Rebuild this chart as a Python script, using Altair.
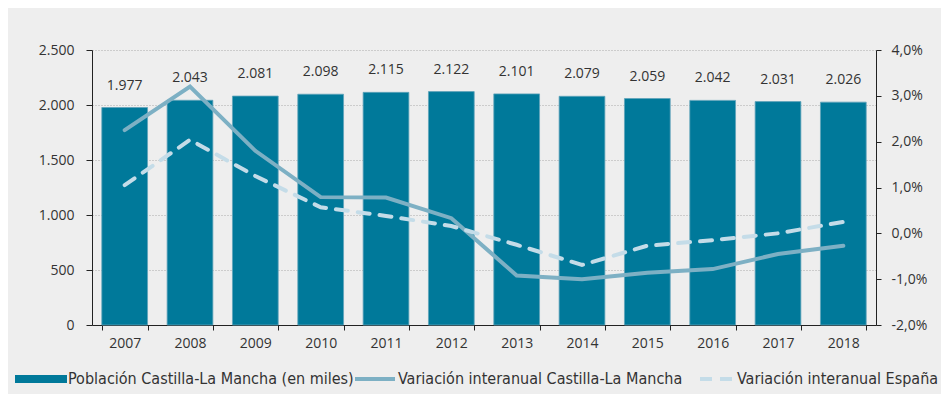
import altair as alt
import pandas as pd

years = ["2007", "2008", "2009", "2010", "2011", "2012", "2013", "2014", "2015", "2016", "2017", "2018"]
poblacion = [1977, 2043, 2081, 2098, 2115, 2122, 2101, 2079, 2059, 2042, 2031, 2026]
var_clm = [2.25, 3.2, 1.8, 0.79, 0.78, 0.33, -0.92, -1.0, -0.86, -0.78, -0.45, -0.27]
var_esp = [1.05, 2.04, 1.25, 0.57, 0.38, 0.16, -0.25, -0.69, -0.27, -0.15, 0.0, 0.25]

legend_labels = ["Población Castilla-La Mancha (en miles)",
                 "Variación interanual Castilla-La Mancha",
                 "Variación interanual España"]

BAR = "#00799A"
CLM = "#7DB0C4"
ESP = "#C4DCE8"
TXT = "#333333"
FONT = "Open Sans"
LFONT = "Liberation Sans Narrow, DejaVu Sans Condensed, Roboto, sans-serif"

df = pd.DataFrame({"year": years, "pop": poblacion, "clm": var_clm, "esp": var_esp})

pop_scale = alt.Scale(domain=[0, 2500], nice=False, zero=True)

xenc = alt.X("year:N", title=None, sort=years,
             scale=alt.Scale(paddingInner=0.3, paddingOuter=0.15),
             axis=alt.Axis(labelAngle=0, labelFont=FONT, labelFontSize=14, labelColor=TXT,
                           domainColor="#222222", tickColor="#222222", tickBand="extent",
                           tickSize=5, labelPadding=6))

base = alt.Chart(df)

bars = base.mark_bar(color=BAR, stroke="#5FA3BA", strokeWidth=0.8).encode(
    x=xenc,
    y=alt.Y("pop:Q", title=None, scale=pop_scale,
            axis=alt.Axis(values=[0, 500, 1000, 1500, 2000, 2500],
                          labelExpr="replace(format(datum.value, ',.0f'), ',', '.')",
                          labelFont=FONT, labelFontSize=14, labelColor=TXT,
                          domainColor="#222222", tickColor="#222222", tickSize=6,
                          labelPadding=12, grid=True, gridColor="#AAAAAA",
                          gridDash=[1, 2], gridWidth=1)),
)

labels = base.transform_calculate(
    lab="replace(format(datum.pop, ',.0f'), ',', '.')"
).mark_text(baseline="middle", dy=-22, font=FONT, fontSize=14, color=TXT).encode(
    x=alt.X("year:N", sort=years),
    y=alt.Y("pop:Q", scale=pop_scale),
    text="lab:N",
)

# manual legend
leg_rect = base.mark_rect(color=BAR).encode(
    x=alt.value(-77), x2=alt.value(-25), y=alt.value(325), y2=alt.value(333))
leg_line = base.mark_rule(color=CLM, strokeWidth=4).encode(
    x=alt.value(263), x2=alt.value(303), y=alt.value(329))
leg_dash = base.mark_rule(color=ESP, strokeWidth=4, strokeDash=[12, 8]).encode(
    x=alt.value(608), x2=alt.value(640), y=alt.value(329))
leg_t1 = alt.Chart(pd.DataFrame({"t": [legend_labels[0]]})).mark_text(
    align="left", baseline="middle", font=LFONT, fontSize=16, color=TXT).encode(
    x=alt.value(-24), y=alt.value(329), text="t:N")
leg_t2 = alt.Chart(pd.DataFrame({"t": [legend_labels[1]]})).mark_text(
    align="left", baseline="middle", font=LFONT, fontSize=16, color=TXT).encode(
    x=alt.value(306), y=alt.value(329), text="t:N")
leg_t3 = alt.Chart(pd.DataFrame({"t": [legend_labels[2]]})).mark_text(
    align="left", baseline="middle", font=LFONT, fontSize=16, color=TXT).encode(
    x=alt.value(645), y=alt.value(329), text="t:N")

left = alt.layer(bars, labels, leg_rect, leg_line, leg_dash, leg_t1, leg_t2, leg_t3)

pct_axis = alt.Axis(values=[-2, -1, 0, 1, 2, 3, 4], orient="right",
                    labelExpr="replace(replace(format(datum.value, '.1f'), '.', ','), '\u2212', '-') + '%'",
                    labelFont=FONT, labelFontSize=14, labelColor=TXT,
                    domainColor="#222222", tickColor="#222222", tickSize=5,
                    labelPadding=10, grid=False)
pct_scale = alt.Scale(domain=[-2, 4], nice=False)

line_clm = base.mark_line(color=CLM, strokeWidth=4, strokeCap="round").encode(
    x=alt.X("year:N", sort=years),
    y=alt.Y("clm:Q", title=None, scale=pct_scale, axis=pct_axis),
)
line_esp = base.mark_line(color=ESP, strokeWidth=4, strokeDash=[12, 10], strokeCap="round").encode(
    x=alt.X("year:N", sort=years),
    y=alt.Y("esp:Q", title=None, scale=pct_scale, axis=pct_axis),
)

right = alt.layer(line_clm, line_esp)

chart = alt.layer(left, right).resolve_scale(
    y="independent"
).properties(
    width=784, height=275,
    autosize=alt.AutoSizeParams(type="none"),
    padding={"left": 84, "top": 42, "right": 65, "bottom": 69},
    background="#EEEEEE",
).configure_view(stroke=None)

chart.save("out.html", embed_options={"renderer": "svg", "actions": False})
